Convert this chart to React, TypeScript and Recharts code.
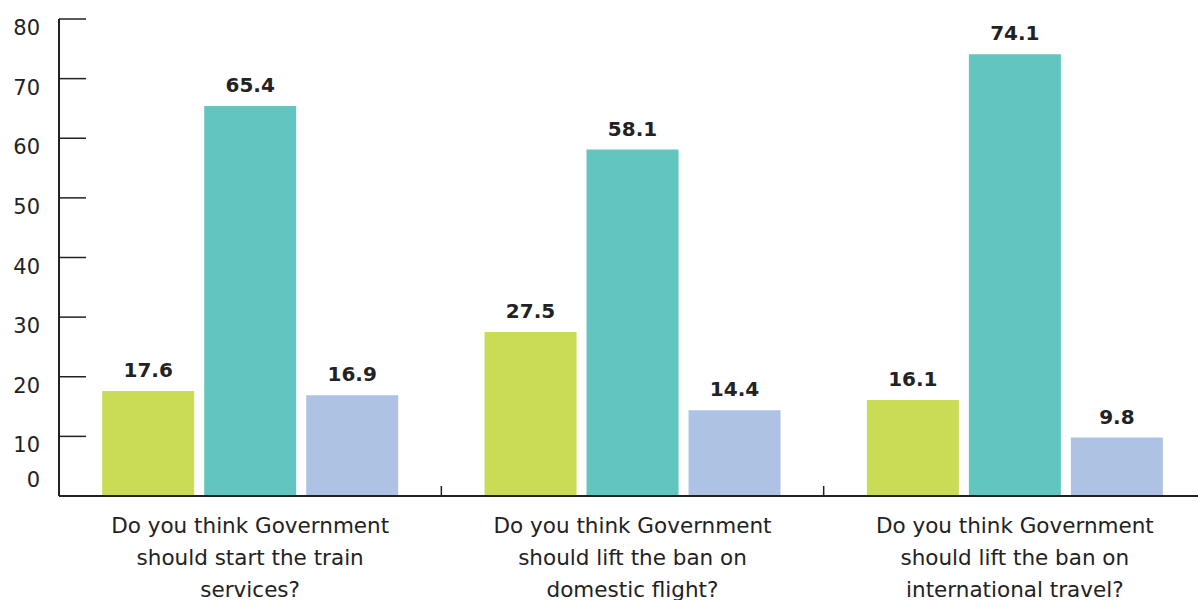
import { BarChart, Bar, XAxis, YAxis, LabelList } from 'recharts'

const categories = [
  'Do you think Government should start the train services?',
  'Do you think Government should lift the ban on domestic flight?',
  'Do you think Government should lift the ban on international travel?',
]
const categoryLines = [
  ['Do you think Government', 'should start the train', 'services?'],
  ['Do you think Government', 'should lift the ban on', 'domestic flight?'],
  ['Do you think Government', 'should lift the ban on', 'international travel?'],
]
const greenValues = [17.6, 27.5, 16.1]
const tealValues = [65.4, 58.1, 74.1]
const blueValues = [16.9, 14.4, 9.8]
const yTicks = [0, 10, 20, 30, 40, 50, 60, 70, 80]

const data = categories.map((name, i) => ({
  name,
  green: greenValues[i],
  teal: tealValues[i],
  blue: blueValues[i],
}))

const FONT = '"DejaVu Sans", sans-serif'
const TEXT = '#222222'
// plot runs a little past the right edge of the picture, as in the reference
const CHART_W = 1206
const AXIS_W = 59

function YTick({ x, y, payload }: any) {
  const v = payload.value
  // the zero label sits above the axis line, the others just below their tick
  const dy = v === 0 ? -16 : 9
  return (
    <g>
      {v !== 0 && <line x1={x} x2={x + 27} y1={y} y2={y} stroke="#222" strokeWidth={1.5} />}
      <text x={x - 19} y={y + dy} textAnchor="end" dominantBaseline="central" fill={TEXT} fontSize={21} fontFamily={FONT}>
        {v}
      </text>
    </g>
  )
}

function XTick({ x, y, payload, index }: any) {
  const lines = categoryLines[index] || [payload.value]
  const band = (CHART_W - AXIS_W) / categories.length
  return (
    <g>
      {index < categories.length - 1 && (
        <line x1={x + band / 2} x2={x + band / 2} y1={y - 10} y2={y} stroke="#222" strokeWidth={1.5} />
      )}
      {lines.map((l: string, i: number) => (
        <text key={i} x={x} y={y + 29 + i * 32} textAnchor="middle" dominantBaseline="central" fill={TEXT} fontSize={21.5} fontFamily={FONT}>
          {l}
        </text>
      ))}
    </g>
  )
}

const labelStyle = { fill: TEXT, fontSize: 20, fontWeight: 700, fontFamily: FONT }

export default function App() {
  return (
    <div style={{ width: 1198, height: 600, background: '#fff', overflow: 'hidden' }}>
      <style>{'body{margin:0;overflow:hidden}'}</style>
      <BarChart
        width={CHART_W}
        height={600}
        data={data}
        margin={{ top: 19, right: 0, bottom: 0, left: 0 }}
        barCategoryGap="11.3%"
        barGap={10}
      >
        <XAxis
          dataKey="name"
          height={104}
          interval={0}
          tickSize={0}
          tickMargin={0}
          tickLine={false}
          axisLine={{ stroke: '#222', strokeWidth: 2 }}
          tick={<XTick />}
        />
        <YAxis
          width={AXIS_W}
          domain={[0, 80]}
          ticks={yTicks}
          interval={0}
          tickSize={0}
          tickMargin={0}
          tickLine={false}
          axisLine={{ stroke: '#222', strokeWidth: 2 }}
          tick={<YTick />}
        />
        <Bar dataKey="green" fill="#CADC55" isAnimationActive={false}>
          <LabelList dataKey="green" position="top" offset={14} style={labelStyle} />
        </Bar>
        <Bar dataKey="teal" fill="#62C6C0" isAnimationActive={false}>
          <LabelList dataKey="teal" position="top" offset={14} style={labelStyle} />
        </Bar>
        <Bar dataKey="blue" fill="#AEC3E4" isAnimationActive={false}>
          <LabelList dataKey="blue" position="top" offset={14} style={labelStyle} />
        </Bar>
      </BarChart>
    </div>
  )
}
